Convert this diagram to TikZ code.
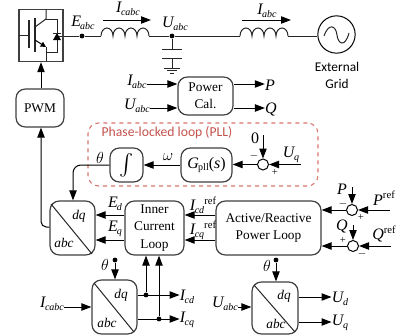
\documentclass[tikz,border=0pt]{standalone}
\usepackage{fontspec}
\setmainfont{Liberation Serif}
\setsansfont{Carlito}
\usepackage{xcolor}
\usepackage{tikz}
\usetikzlibrary{arrows.meta}
\usetikzlibrary{calc}
\definecolor{edge}{HTML}{3F3F3F}
\definecolor{pll}{HTML}{D9736C}
\definecolor{plltext}{HTML}{C4524C}
\newcommand{\vsub}[2]{\textit{#1}\kern-0.8pt\raisebox{-2pt}{\fontsize{7.5}{8}\selectfont\textit{#2}}}
\newcommand{\vref}[2]{\textit{#1}\kern-0.8pt\raisebox{-2pt}{\fontsize{7.5}{8}\selectfont\textit{#2}}\raisebox{5pt}{\fontsize{8}{8}\selectfont ref}}
\newcommand{\vsup}[1]{\textit{#1}\raisebox{5pt}{\fontsize{8}{8}\selectfont ref}}

\begin{document}
\begin{tikzpicture}[
  x=0.75pt, y=-0.75pt,
  >={Triangle[length=7.5pt,width=5.5pt]},
  wire/.style={line width=0.75pt,color=black!85},
  dep/.style={->,line width=0.75pt,color=black},
  block/.style 2 args={
    rectangle,
    draw=edge,
    line width=0.9pt,
    rounded corners=7pt,
    inner sep=0pt,
    align=center,
    minimum width=#1*0.75pt,
    minimum height=#2*0.75pt},
  sumnode/.style={
    circle,
    draw=black,
    line width=0.75pt,
    fill=white,
    inner sep=0pt,
    minimum size=8.25pt},
  dot/.style={
    circle,
    fill=black,
    inner sep=0pt,
    minimum size=3.6pt},
  lbl/.style={
    inner sep=0pt,
    font=\fontsize{12}{14}\selectfont},
  conv/.style={
    inner sep=0pt,
    font=\fontsize{10}{12}\selectfont},
  txt/.style={
    inner sep=0pt,
    align=center,
    font=\fontsize{10}{11.5}\selectfont},
  sgn/.style={
    inner sep=0pt,
    font=\fontsize{8}{9}\selectfont},
]
  \useasboundingbox (0,0) rectangle (401,336);

  \def\lineac{36}%
  \def\lvlup{215}%
  \def\lvldown{240}%

  % Converter
  \node[rectangle,draw=edge,line width=1pt,inner sep=0pt,
    minimum width=33pt,minimum height=39pt] (switch) at (41,35.5) {};
  \draw[wire] (19,35) -- (29,35);
  \draw[wire,line width=0.9pt] (29,20) -- (29,48);
  \draw[wire,line width=0.9pt] (35,18) -- (35,52);
  \draw[wire] (46,9) -- (46,19) -- (35,27);
  \draw[wire] (46,19) -- (57,19) -- (57,52) -- (46,52);
  \draw[->,line width=0.75pt,>={Triangle[length=4pt,width=4pt]}] (35,40) -- (46,47);
  \draw[wire] (46,47) -- (46,61);
  \draw[wire] (57,36) -- (63,36);
  \fill[black] (53,40) -- (61,40) -- (57,33) -- cycle;
  \draw[wire] (53,33) -- (61,33);

  % Line and grid
  \coordinate (lone) at (101,\lineac);
  \coordinate (ltwo) at (240,\lineac);
  \node[dot] (ebus) at (82,\lineac) {};
  \node[dot] (ubus) at (172,\lineac) {};
  \node[circle,draw=black,line width=0.75pt,inner sep=0pt,minimum size=28pt] (grid) at (336.5,34.5) {};
  \draw[wire] (switch.east |- ebus) -- (ebus) -- (lone);
  \draw[wire] (lone) foreach \i in {1,...,4} {arc (180:360:6 and 8)} coordinate (loneend);
  \draw[wire] (loneend) -- (ubus) -- (ltwo);
  \draw[wire] (ltwo) foreach \i in {1,...,4} {arc (180:360:6 and 8)} coordinate (ltwoend);
  \draw[wire] (ltwoend) -- (grid.west |- ltwoend);
  \draw[wire] (324,36) .. controls (329,22) and (336,26) .. (337,35)
    .. controls (338,44) and (345,48) .. (349,33);

  \coordinate (icstart) at (103,20);
  \coordinate (icstop) at (151,20);
  \coordinate (igstart) at (242,20);
  \coordinate (igstop) at (291,20);
  \draw[dep] (icstart) -- (icstop);
  \draw[dep] (igstart) -- (igstop);
  \node[lbl] (eabc) at (83,23) {\vsub{E}{abc}};
  \node[lbl] (icabc) at (128,9) {\vsub{I}{cabc}};
  \node[lbl] (uabc) at (175,24) {\vsub{U}{abc}};
  \node[lbl] (iabc) at (267,11) {\vsub{I}{abc}};
  \node[txt,font=\sffamily\fontsize{10}{12.75}\selectfont] (gridname) at (337,75.5) {External\\Grid};

  % Filter capacitor
  \coordinate (capa) at (172,49);
  \coordinate (capb) at (172,58);
  \coordinate (gnd) at (172,68);
  \draw[wire] (ubus) -- (capa);
  \draw[wire] (162,49) -- (182,49);
  \draw[wire] (162,58) -- (182,58);
  \draw[wire] (capb) -- (gnd);
  \draw[wire] (164,68) -- (180,68);
  \draw[wire] (167,70.5) -- (177,70.5);
  \draw[wire] (170,73) -- (174,73);

  % Power calculation
  \node[block={55}{38}] (power) at (205.5,96) {Power\\[0.5pt]Cal.};
  \node[lbl] (pwri) at (137,82) {\vsub{I}{abc}};
  \node[lbl] (pwru) at (137,106) {\vsub{U}{abc}};
  \node[lbl] (pwrp) at (270,85) {\textit{P}};
  \node[lbl] (pwrq) at (271,109) {\textit{Q}};
  \draw[dep] (pwri.east |- 0,84) -- (power.west |- 0,84);
  \draw[dep] (pwru.east |- 0,108) -- (power.west |- 0,108);
  \draw[dep] (power.east |- 0,84) -- (pwrp.west |- 0,84);
  \draw[dep] (power.east |- 0,108) -- (pwrq.west |- 0,108);

  % PWM
  \node[block={48}{38}] (pwm) at (40,108) {PWM};
  \draw[dep] (pwm.north -| switch.south) -- (switch.south);

  % PLL
  \node[rectangle,draw=pll,dashed,line width=0.8pt,rounded corners=8pt,inner sep=0pt,
    minimum width=172.5pt,minimum height=47.25pt] (pllbox) at (203,154.5) {};
  \node[inner sep=0pt,color=plltext,font=\sffamily\fontsize{10.25}{12}\selectfont] (pllname) at (167,133) {Phase-locked loop (PLL)};
  \node[block={33}{34}] (integ) at (126.5,165) {\scalebox{1.6}{$\int$}};
  \node[block={51}{34},font=\fontsize{12}{14}\selectfont] (gpll) at (206.5,165) {\textit{G}\kern-0.5pt\raisebox{-2pt}{\fontsize{7.5}{8}\selectfont pll}(\textit{s})};
  \node[sumnode] (sumpll) at (263,164.5) {};
  \node[lbl] (zero) at (255,138) {0};
  \node[lbl] (uqin) at (291,155) {\vsub{U}{q}};
  \node[lbl] (omega) at (168,157) {$\omega$};
  \node[lbl] (thetaa) at (100,158) {$\theta$};
  \node[sgn] (sumplla) at (254,156) {$-$};
  \node[sgn] (sumpllb) at (275,172) {+};
  \coordinate (uqstart) at (301,164.5);
  \coordinate (zerostart) at (263,135);
  \draw[dep] (sumpll) -- (gpll.east |- sumpll);
  \draw[dep] (uqstart) -- (sumpll);
  \draw[dep] (zerostart) -- (sumpll);
  \draw[dep] (gpll) -- (integ);

  % Control blocks
  \node[block={45}{54}] (dqone) at (72.5,228) {};
  \node[block={59}{54}] (inner) at (154.5,228) {Inner\\[1pt]Current\\[1pt]Loop};
  \node[block={105}{54}] (outer) at (268.5,228) {Active/Reactive\\[0.5pt]Power Loop};
  \draw[wire] (51,204) -- (92,254);
  \node[conv] (dqonea) at (79,216) {\textit{dq}};
  \node[conv] (dqoneb) at (64,243) {\textit{abc}};
  \draw[dep,rounded corners=6pt] (integ) -- (73,165) -- (dqone.north -| 73,0);
  \draw[dep,rounded corners=4pt] (dqone.west |- 0,227) -- (41,227) -- (pwm.south -| 41,0);
  \draw[dep] (inner.west |- 0,\lvlup) -- (dqone.east |- 0,\lvlup);
  \draw[dep] (inner.west |- 0,\lvldown) -- (dqone.east |- 0,\lvldown);
  \draw[dep] (outer.west |- 0,\lvlup) -- (inner.east |- 0,\lvlup);
  \draw[dep] (outer.west |- 0,\lvldown) -- (inner.east |- 0,\lvldown);
  \node[lbl] (edv) at (115,204) {\vsub{E}{d}};
  \node[lbl] (eqv) at (115,229) {\vsub{E}{q}};
  \node[lbl] (icdref) at (203,205) {\vref{I}{cd}};
  \node[lbl] (icqref) at (203,230) {\vref{I}{cq}};

  % Power references
  \node[sumnode] (sump) at (352,210) {};
  \node[sumnode] (sumq) at (353,246) {};
  \coordinate (pdown) at (352,187);
  \coordinate (qdown) at (353,225);
  \coordinate (prefstart) at (390,210);
  \coordinate (qrefstart) at (391,246);
  \draw[dep] (sump) -- (outer.east |- sump);
  \draw[dep] (sumq) -- (outer.east |- sumq);
  \draw[dep] (pdown) -- (sump);
  \draw[dep] (qdown) -- (sumq);
  \draw[dep] (prefstart) -- (sump);
  \draw[dep] (qrefstart) -- (sumq);
  \node[lbl] (pval) at (342,189) {\textit{P}};
  \node[lbl] (qval) at (342,226) {\textit{Q}};
  \node[lbl] (pref) at (384,198) {\vsup{P}};
  \node[lbl] (qref) at (384,234) {\vsup{Q}};
  \node[sgn] (sumpa) at (343,204) {$-$};
  \node[sgn] (sumpb) at (361,217) {+};
  \node[sgn] (sumqa) at (343,240) {+};
  \node[sgn] (sumqb) at (362,254) {$-$};

  % Current transform
  \node[block={45}{54}] (dqtwo) at (114.5,307) {};
  \draw[wire] (94,283) -- (134,332);
  \node[conv] (dqtwoa) at (121,295) {\textit{dq}};
  \node[conv] (dqtwob) at (107,323) {\textit{abc}};
  \node[dot] (thetatwo) at (115,260) {};
  \node[lbl] (thetatwon) at (105,265) {$\theta$};
  \draw[dep] (thetatwo) -- (dqtwo.north -| thetatwo);
  \node[lbl] (icabcin) at (52,304) {\vsub{I}{cabc}};
  \draw[dep] (icabcin.east |- 0,307) -- (dqtwo.west |- 0,307);
  \node[lbl] (icdout) at (187,297) {\vsub{I}{cd}};
  \node[lbl] (icqout) at (187,320) {\vsub{I}{cq}};
  \node[dot] (icddot) at (146,295) {};
  \node[dot] (icqdot) at (159,319) {};
  \draw[dep] (dqtwo.east |- icddot) -- (icdout.west |- icddot);
  \draw[dep] (dqtwo.east |- icqdot) -- (icqout.west |- icqdot);
  \draw[dep] (icddot) -- (inner.south -| icddot);
  \draw[dep] (icqdot) -- (inner.south -| icqdot);

  % Voltage transform
  \node[block={46}{52}] (dqthree) at (275,308) {};
  \draw[wire] (254,285) -- (295,332);
  \node[conv] (dqthreea) at (284,296) {\textit{dq}};
  \node[conv] (dqthreeb) at (276,324) {\textit{abc}};
  \node[dot] (thetathree) at (276,260) {};
  \node[lbl] (thetathreen) at (267,266) {$\theta$};
  \draw[dep] (thetathree) -- (dqthree.north -| thetathree);
  \node[lbl] (uabcin) at (225,304) {\vsub{U}{abc}};
  \draw[dep] (uabcin.east |- 0,307) -- (dqthree.west |- 0,307);
  \node[lbl] (udout) at (340,299) {\vsub{U}{d}};
  \node[lbl] (uqout) at (340,323) {\vsub{U}{q}};
  \draw[dep] (dqthree.east |- 0,297) -- (udout.west |- 0,297);
  \draw[dep] (dqthree.east |- 0,322) -- (uqout.west |- 0,322);

\end{tikzpicture}
\end{document}
